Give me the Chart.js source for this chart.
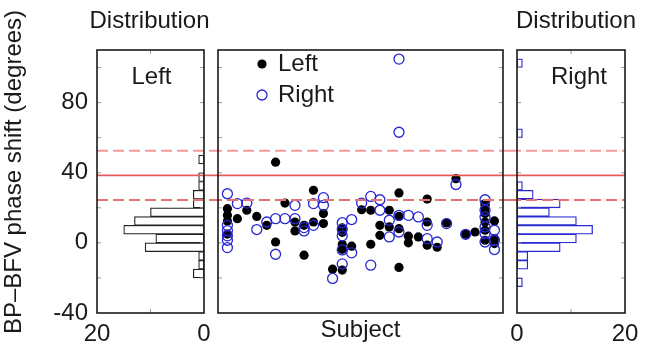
<!DOCTYPE html>
<html>
<head>
<meta charset="utf-8">
<script src="https://cdn.jsdelivr.net/npm/chart.js@4.4.1/dist/chart.umd.min.js"></script>
<style>
  body { margin: 0; background: #fff; }
  #wrap { position: relative; width: 649px; height: 347px; }
  canvas { position: absolute; top: 0; }
</style>
</head>
<body>
<div id="wrap">
  <canvas id="histLeft" width="211" height="347" style="left:0"></canvas>
  <canvas id="scatter" width="299" height="347" style="left:211px"></canvas>
  <canvas id="histRight" width="139" height="347" style="left:510px"></canvas>
</div>
<script>
// phase shift por sujeto, lado izquierdo (puntos negros)
const leftSubject = [3.3, 3.3, 3.3, 3.3, 6.8, 10.1, 13.6, 17.1, 20.2, 20.2, 23.5, 27, 27, 30.2, 30.2,
  33.5, 33.5, 37, 37, 40.2, 43.6, 43.6, 43.6, 43.6, 43.6, 46.9, 50.4, 53.6, 53.6, 56.8, 56.8,
  60.1, 60.1, 63.5, 63.5, 63.5, 63.5, 66.8, 66.8, 70.3, 73.4, 73.4, 73.4, 76.9, 80.2, 83.5,
  86.9, 90.2, 93.7, 93.7, 93.7, 93.7, 93.7, 93.7, 93.7, 97, 97, 97];
const leftShift = [19.5, 15.7, 12.5, 5, 13.8, 18.6, 15.1, 10, 46, 0.5, 22.7, 11.9, 6.8, 10, -7,
  30, 11.9, 16.7, 11, -15, 8.5, 6, -1, -3.7, -15.5, -1.9, 18.9, 18.6, -0.8, 10, 4.3,
  18.6, 9.1, 28.5, 15.1, 8.1, -14, 3.8, 0, 3.4, 25, 11.9, -1.3, -2.5, 11.4, 36.6,
  4.9, 6.2, 22.4, 21.4, 19.5, 16.7, 11.9, 7.2, 1.5, 12.5, 2.4, -0.4];

// lado derecho (circulos azules)
const rightSubject = [3.3, 3.3, 3.3, 3.3, 3.3, 3.3, 6.8, 10.1, 13.6, 17.1, 20.2, 20.2, 23.5, 27, 27,
  30.2, 30.2, 33.5, 33.5, 37, 37, 40.2, 43.6, 43.6, 43.6, 43.6, 43.6, 46.9, 46.9, 50.4,
  53.6, 53.6, 56.8, 56.8, 60.1, 60.1, 63.5, 63.5, 63.5, 63.5, 66.8, 70.3, 73.4, 73.4, 76.9,
  80.2, 83.5, 86.9, 93.7, 93.7, 93.7, 93.7, 93.7, 93.7, 97, 97, 97];
const rightShift = [28, 10, 7, 4, 1.5, -2.7, 22.4, 22.7, 7.6, 11.9, 13.8, -6.5, 13.8, 21.4, 13.8,
  8.7, 6.8, 22.4, 10, 25.8, 21.4, -20.3, 11.5, 7.7, 4, -4, -12, 13.3, -5.7, 22.7,
  26.5, -12.7, 24.6, 18.6, 12.9, 3.4, 104.8, 63.1, 15.7, 6.2, 15.7, 14.8, 10, 2.4, 0.5,
  11, 33.3, 4.9, 24.6, 18.6, 14.8, 9.1, 5.3, 0.5, 7.2, 1.5, -3.8];

// histogramas (bins de 5 grados)
const binCenters = [-22.5, -17.5, -12.5, -7.5, -2.5, 2.5, 7.5, 12.5, 17.5, 22.5, 27.5, 32.5, 37.5,
  42.5, 47.5, 52.5, 57.5, 62.5, 67.5, 72.5, 77.5, 82.5, 87.5, 92.5, 97.5, 102.5];
const leftCounts = [0, 2, 1, 1, 11, 9, 15, 13, 10, 2, 2, 1, 1, 0, 1, 0, 0, 0, 0, 0, 0, 0, 0, 0, 0, 0];
const rightCounts = [1, 0, 2, 2, 8, 11, 14, 11, 6, 8, 3, 1, 0, 0, 0, 0, 0, 1, 0, 0, 0, 0, 0, 0, 0, 1];

// media y limites
const meanShift = 38.5;
const limitShift = [24.5, 52.5];

const yTickMarks = [-20, 0, 20, 40, 60, 80, 100];
const countTicks = [0, 20];

const FONT = '24px "Liberation Sans", Arial, sans-serif';
Chart.defaults.font.family = '"Liberation Sans", Arial, sans-serif';
Chart.defaults.font.size = 24;
Chart.defaults.color = '#1a1a1a';

const refLines = {
  id: 'refLines',
  afterDatasetsDraw(chart, args, opts) {
    const { ctx, chartArea: a, scales: { y } } = chart;
    const x1 = opts.fromEdge ? 0 : a.left;
    const x2 = opts.toEdge ? chart.width : a.right;
    ctx.save();
    const drawAt = (v, color, dash, w) => {
      const py = y.getPixelForValue(v);
      ctx.strokeStyle = color;
      ctx.lineWidth = w;
      ctx.setLineDash(dash);
      ctx.beginPath();
      ctx.moveTo(x1, py);
      ctx.lineTo(x2, py);
      ctx.stroke();
    };
    drawAt(limitShift[1], '#f29a9a', [11, 5], 2);
    drawAt(limitShift[0], '#e87272', [11, 5], 2);
    drawAt(meanShift, '#e85a5a', [], 1.6);
    ctx.restore();
  }
};

const frame = {
  id: 'frame',
  afterDatasetsDraw(chart, args, opts) {
    const { ctx, chartArea: a, scales } = chart;
    ctx.save();
    ctx.strokeStyle = '#9a9a9a';
    ctx.lineWidth = 1;
    yTickMarks.forEach(v => {
      const py = scales.y.getPixelForValue(v);
      ctx.beginPath();
      ctx.moveTo(a.left, py); ctx.lineTo(a.left + 4, py);
      ctx.moveTo(a.right, py); ctx.lineTo(a.right - 4, py);
      ctx.stroke();
    });
    (opts.xMarks || []).forEach(v => {
      const px = scales.x.getPixelForValue(v);
      ctx.beginPath();
      ctx.moveTo(px, a.bottom); ctx.lineTo(px, a.bottom - 4);
      ctx.moveTo(px, a.top); ctx.lineTo(px, a.top + 4);
      ctx.stroke();
    });
    ctx.strokeStyle = '#1a1a1a';
    ctx.lineWidth = 1.6;
    ctx.strokeRect(a.left, a.top, a.right - a.left, a.bottom - a.top);
    ctx.restore();
  }
};

// textos del panel: titulo arriba, etiqueta dentro, titulo vertical
const panelText = {
  id: 'panelText',
  afterDraw(chart, args, opts) {
    const { ctx, chartArea: a } = chart;
    const cx = (a.left + a.right) / 2;
    ctx.save();
    ctx.font = FONT;
    ctx.fillStyle = '#1a1a1a';
    ctx.textAlign = 'center';
    ctx.textBaseline = 'middle';
    if (opts.title) ctx.fillText(opts.title, cx + (opts.titleDx || 0), 21);
    if (opts.label) ctx.fillText(opts.label, cx + (opts.labelDx || 0), a.top + 27);
    if (opts.sideTitle) {
      ctx.translate(14.5, 172);
      ctx.rotate(-Math.PI / 2);
      ctx.fillText(opts.sideTitle, 0, 0);
    }
    ctx.restore();
  }
};

const insideLegend = {
  id: 'insideLegend',
  afterDraw(chart) {
    const { ctx, chartArea: a } = chart;
    ctx.save();
    ctx.font = FONT;
    ctx.textBaseline = 'middle';
    chart.data.datasets.forEach((ds, i) => {
      const cx = a.left + 44, cy = a.top + 14 + i * 31;
      ctx.beginPath();
      ctx.arc(cx, cy, ds.pointRadius, 0, 2 * Math.PI);
      ctx.fillStyle = ds.pointBackgroundColor;
      ctx.fill();
      if (ds.pointBorderWidth) {
        ctx.strokeStyle = ds.pointBorderColor;
        ctx.lineWidth = ds.pointBorderWidth;
        ctx.stroke();
      }
      ctx.fillStyle = '#1a1a1a';
      ctx.fillText(ds.label, cx + 16, cy);
    });
    ctx.restore();
  }
};

function histConfig(counts, color, isLeft) {
  return {
    type: 'bar',
    data: {
      datasets: [{
        label: isLeft ? 'Left' : 'Right',
        data: binCenters.map((c, i) => ({ x: counts[i], y: c })),
        xAxisID: 'x',
        yAxisID: 'y',
        backgroundColor: '#fff',
        borderColor: color,
        borderWidth: isLeft ? 1.2 : 1.3,
        borderSkipped: false,
        barPercentage: 1,
        categoryPercentage: 1
      }]
    },
    options: {
      indexAxis: 'y',
      responsive: false,
      animation: false,
      devicePixelRatio: 1,
      layout: { padding: isLeft ? { left: 0, right: 7, top: 50, bottom: 0 } : { left: 7, right: 24, top: 50, bottom: 0 } },
      plugins: {
        legend: { display: false },
        tooltip: { enabled: false },
        refLines: isLeft ? { fromEdge: false, toEdge: true } : { fromEdge: true, toEdge: false },
        frame: { xMarks: [10] },
        panelText: isLeft
          ? { title: 'Distribution', titleDx: -1, label: 'Left', labelDx: 1, sideTitle: 'BP–BFV phase shift (degrees)' }
          : { title: 'Distribution', titleDx: 5, label: 'Right', labelDx: 8 }
      },
      scales: {
        x: {
          type: 'linear', position: 'bottom', reverse: isLeft, min: 0, max: 20,
          grid: { display: false, drawTicks: false }, border: { display: false },
          ticks: { stepSize: 20, padding: 7, callback: v => (countTicks.includes(v) ? v : '') },
          afterFit: s => { s.height = 34; s.paddingLeft = 0; s.paddingRight = 0; }
        },
        y: isLeft ? {
          type: 'linear', position: 'left', min: -40, max: 110, offset: false,
          grid: { display: false, drawTicks: false, offset: false }, border: { display: false },
          ticks: { stepSize: 20, padding: 9, callback: v => (v % 40 === 0 ? v : '') },
          afterFit: s => { s.width = 97; s.paddingTop = 0; s.paddingBottom = 0; }
        } : {
          type: 'linear', min: -40, max: 110, offset: false, display: false,
          grid: { offset: false }
        }
      }
    },
    plugins: [refLines, frame, panelText]
  };
}

new Chart(document.getElementById('histLeft'), histConfig(leftCounts, '#222', true));
new Chart(document.getElementById('histRight'), histConfig(rightCounts, '#2a2ad0', false));

new Chart(document.getElementById('scatter'), {
  type: 'scatter',
  data: {
    datasets: [
      {
        label: 'Left',
        data: leftSubject.map((s, i) => ({ x: s, y: leftShift[i] })),
        pointRadius: 4.6,
        pointBackgroundColor: '#000',
        pointBorderColor: '#000',
        pointBorderWidth: 0,
        order: 1
      },
      {
        label: 'Right',
        data: rightSubject.map((s, i) => ({ x: s, y: rightShift[i] })),
        pointRadius: 5,
        pointBackgroundColor: 'rgba(0,0,0,0)',
        pointBorderColor: '#2626d2',
        pointBorderWidth: 1.3,
        order: 0
      }
    ]
  },
  options: {
    responsive: false,
    animation: false,
    devicePixelRatio: 1,
    layout: { padding: { left: 7, right: 7, top: 50, bottom: 0 } },
    plugins: {
      legend: { display: false },
      tooltip: { enabled: false },
      refLines: { fromEdge: true, toEdge: true },
      frame: { xMarks: [] }
    },
    scales: {
      x: {
        type: 'linear', min: 0, max: 100,
        grid: { display: false, drawTicks: false }, border: { display: false },
        ticks: { display: false },
        title: { display: true, text: 'Subject', padding: { top: 0, bottom: 2 } },
        afterFit: s => { s.height = 34; }
      },
      y: { type: 'linear', min: -40, max: 110, display: false }
    }
  },
  plugins: [refLines, frame, insideLegend]
});
</script>
</body>
</html>
